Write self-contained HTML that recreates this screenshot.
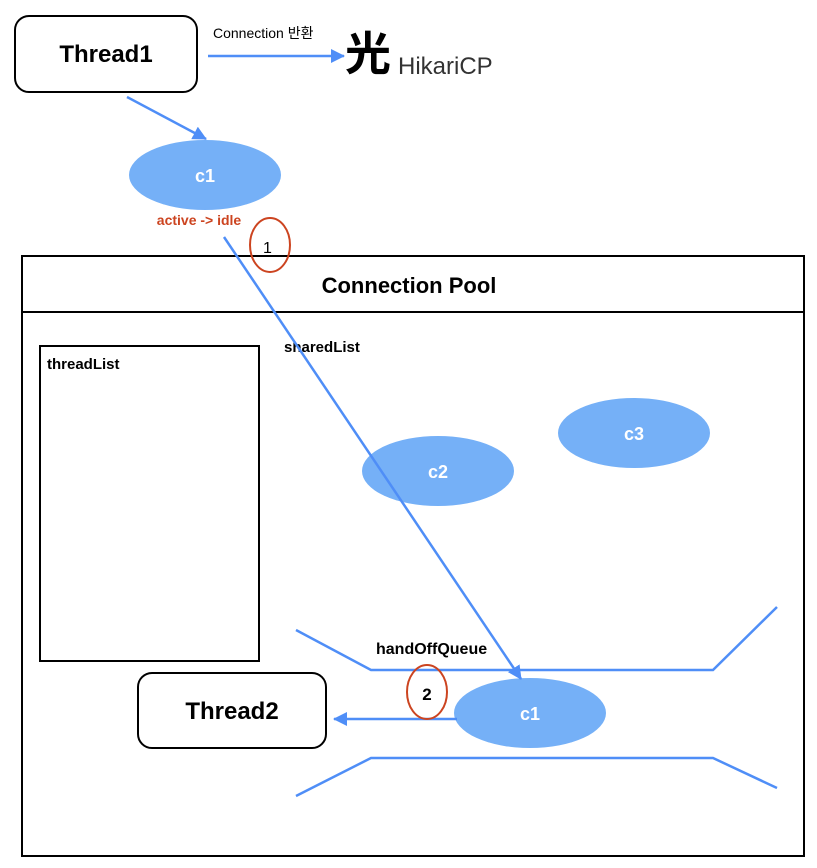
<!DOCTYPE html>
<html><head><meta charset="utf-8"><style>
html,body{margin:0;padding:0;background:#fff;width:817px;height:868px;overflow:hidden}
svg{display:block}
text{font-family:"Liberation Sans","Noto Sans CJK KR",sans-serif}
</style></head><body>
<svg width="817" height="868" viewBox="0 0 817 868" xmlns="http://www.w3.org/2000/svg">
<defs>
<marker id="a" markerWidth="16" markerHeight="16" refX="13" refY="7" orient="auto" markerUnits="userSpaceOnUse"><path d="M0,0 L14,7 L0,14 Z" fill="#4f8ef7"/></marker>
</defs>
<rect x="15" y="16" width="182" height="76" rx="14" fill="#fff" stroke="#000" stroke-width="2"/>
<text x="106" y="62" font-size="24" font-weight="bold" text-anchor="middle">Thread1</text>
<text x="213" y="38" font-size="14">Connection 반환</text>
<line x1="208" y1="56" x2="344" y2="56" stroke="#4f8ef7" stroke-width="2.5" marker-end="url(#a)"/>
<text x="345" y="70" font-size="46" font-weight="bold" font-family="Noto Serif CJK SC,serif">光</text>
<text x="398" y="74" font-size="24" fill="#333">HikariCP</text>
<line x1="127" y1="97" x2="206" y2="139" stroke="#4f8ef7" stroke-width="2.5" marker-end="url(#a)"/>
<ellipse cx="205" cy="175" rx="76" ry="35" fill="#75b0f7"/>
<text x="205" y="182" font-size="18" font-weight="bold" fill="#fff" text-anchor="middle">c1</text>
<text x="199" y="225" font-size="14" font-weight="bold" fill="#cc4420" text-anchor="middle">active -&gt; idle</text>
<rect x="22" y="256" width="782" height="600" fill="none" stroke="#000" stroke-width="2"/>
<line x1="22" y1="312" x2="804" y2="312" stroke="#000" stroke-width="2"/>
<text x="409" y="293" font-size="22" font-weight="bold" text-anchor="middle">Connection Pool</text>
<ellipse cx="270" cy="245" rx="20" ry="27" fill="none" stroke="#cc4420" stroke-width="2"/>
<text x="263" y="253" font-size="16">1</text>
<rect x="40" y="346" width="219" height="315" fill="none" stroke="#000" stroke-width="2"/>
<text x="47" y="369" font-size="15" font-weight="bold">threadList</text>
<text x="284" y="352" font-size="15" font-weight="bold">sharedList</text>
<ellipse cx="438" cy="471" rx="76" ry="35" fill="#75b0f7"/>
<text x="438" y="478" font-size="18" font-weight="bold" fill="#fff" text-anchor="middle">c2</text>
<ellipse cx="634" cy="433" rx="76" ry="35" fill="#75b0f7"/>
<text x="634" y="440" font-size="18" font-weight="bold" fill="#fff" text-anchor="middle">c3</text>
<polyline points="296,630 371,670 713,670 777,607" fill="none" stroke="#4f8ef7" stroke-width="2.5"/>
<polyline points="296,796 371,758 713,758 777,788" fill="none" stroke="#4f8ef7" stroke-width="2.5"/>
<text x="376" y="654" font-size="16" font-weight="bold">handOffQueue</text>
<ellipse cx="530" cy="713" rx="76" ry="35" fill="#75b0f7"/>
<text x="530" y="720" font-size="18" font-weight="bold" fill="#fff" text-anchor="middle">c1</text>
<line x1="224" y1="237" x2="521" y2="679" stroke="#4f8ef7" stroke-width="2.5" marker-end="url(#a)"/>
<line x1="457" y1="719" x2="334" y2="719" stroke="#4f8ef7" stroke-width="2.5" marker-end="url(#a)"/>
<ellipse cx="427" cy="692" rx="20" ry="27" fill="none" stroke="#cc4420" stroke-width="2"/>
<text x="427" y="700" font-size="17" font-weight="bold" text-anchor="middle">2</text>
<rect x="138" y="673" width="188" height="75" rx="14" fill="#fff" stroke="#000" stroke-width="2"/>
<text x="232" y="719" font-size="24" font-weight="bold" text-anchor="middle">Thread2</text>
</svg>
</body></html>
